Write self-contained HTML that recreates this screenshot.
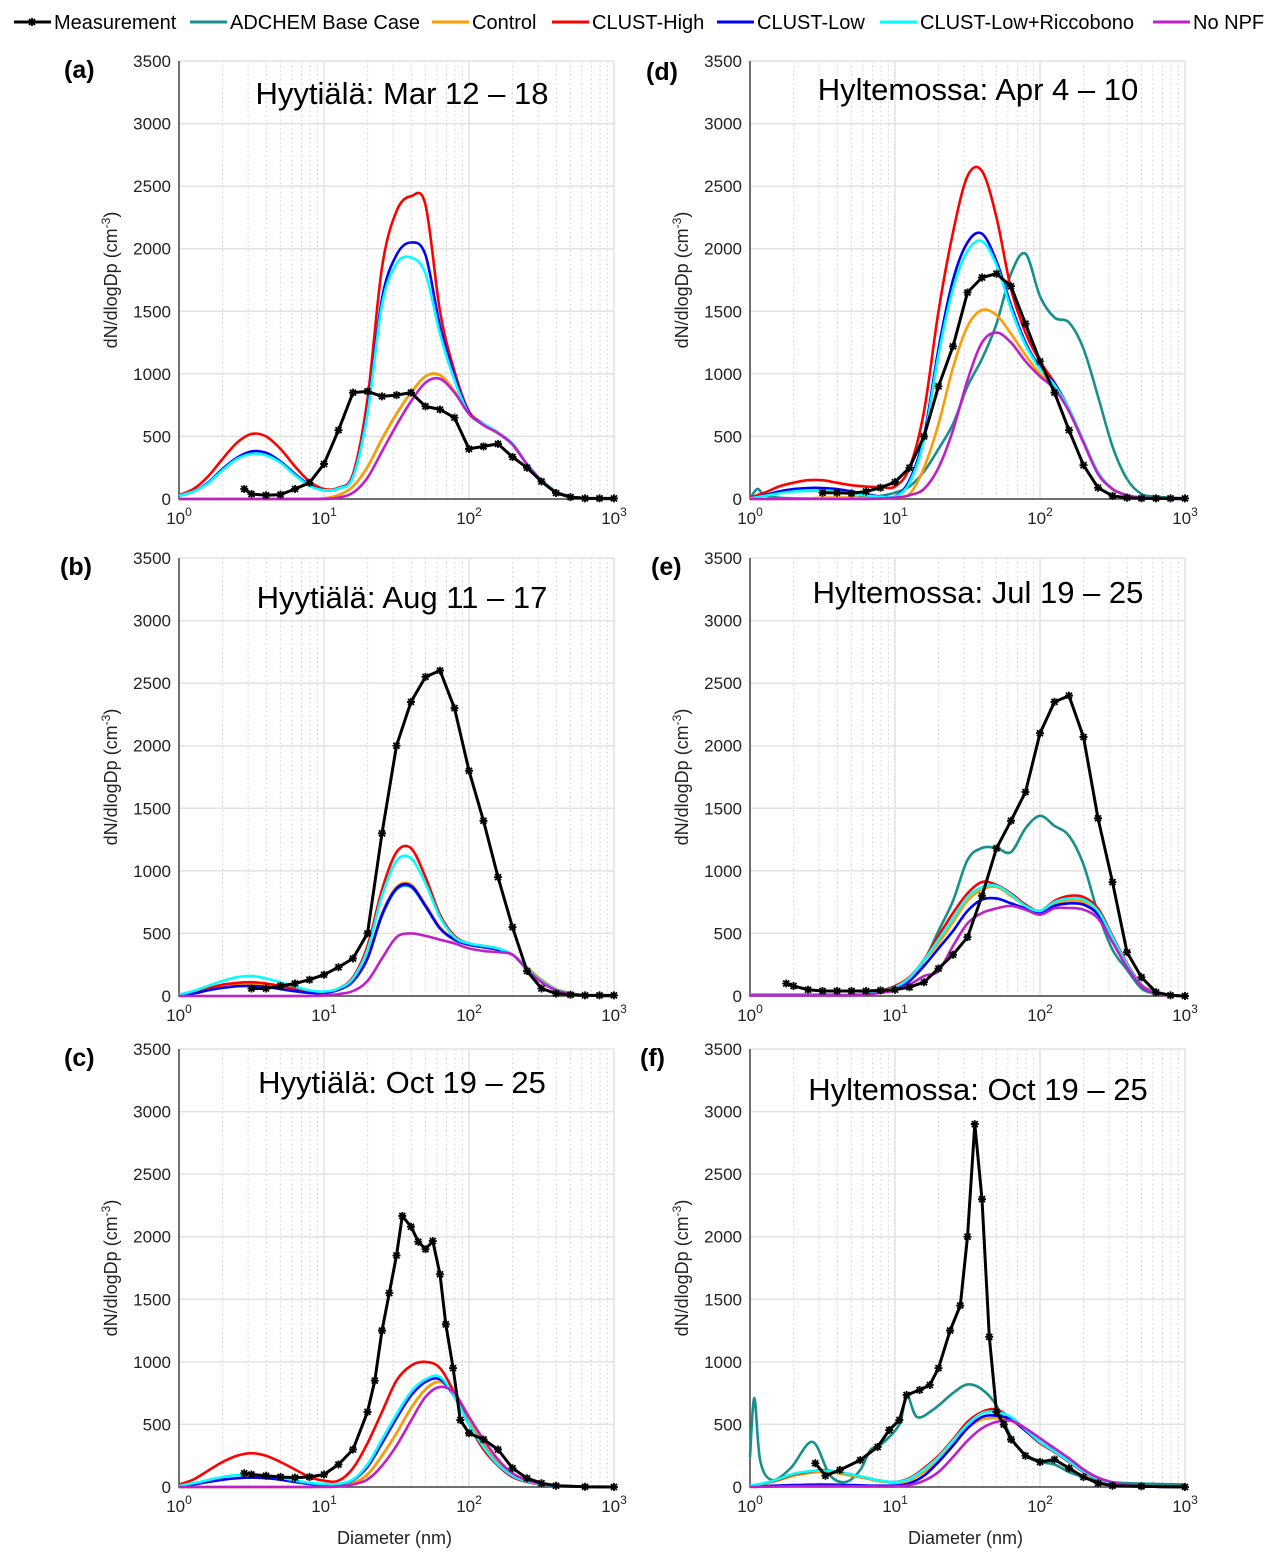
<!DOCTYPE html>
<html><head><meta charset="utf-8">
<style>
html,body{margin:0;padding:0;background:#fff;}
svg{display:block;font-family:"Liberation Sans",Arial,sans-serif;}
</style></head>
<body>
<svg id="fig" width="1276" height="1561" viewBox="0 0 1276 1561" xmlns="http://www.w3.org/2000/svg"></svg>
<script>
// ---------- data (log10 Dp grid 0..3 step 0.1) ----------
const logGrid=[0,0.1,0.2,0.3,0.4,0.5,0.6,0.7,0.8,0.9,1.0,1.1,1.2,1.3,1.4,1.5,1.6,1.7,1.8,1.9,2.0,2.1,2.2,2.3,2.4,2.5,2.6,2.7,2.8,2.9,3.0];
const yTicks=[0,500,1000,1500,2000,2500,3000,3500];
const xTickExp=[0,1,2,3];
const seriesNames=["ADCHEM Base Case","Control","CLUST-High","CLUST-Low","CLUST-Low+Riccobono","No NPF","Measurement"];

// Panel (a)
const a_adchem=[0,0,0,0,0,0,0,0,0,0,5,30,100,256,480,680,850,980,990,860,690,600,530,440,280,150,60,20,8,3,0];
const a_control=[0,0,0,0,0,0,0,0,0,0,5,30,100,256,480,680,850,980,990,860,690,600,530,440,280,150,60,20,8,3,0];
const a_high=[30,80,180,320,450,520,500,400,260,140,80,90,200,800,1850,2300,2420,2350,1500,1020,700,600,530,440,280,150,60,20,8,3,0];
const a_low=[25,60,130,240,330,380,370,300,200,110,70,85,180,700,1600,1950,2050,1950,1380,980,690,600,530,440,280,150,60,20,8,3,0];
const a_ricc=[25,60,125,230,320,360,350,290,190,105,70,85,175,680,1550,1880,1930,1800,1320,950,680,600,530,440,280,150,60,20,8,3,0];
const a_nonpf=[0,0,0,0,0,0,0,0,0,0,0,10,50,170,380,590,780,930,960,850,680,590,525,435,275,145,58,18,7,3,0];
const a_measX=[0.45,0.5,0.6,0.7,0.8,0.9,1.0,1.1,1.2,1.3,1.4,1.5,1.6,1.7,1.8,1.9,2.0,2.1,2.2,2.3,2.4,2.5,2.6,2.7,2.8,2.9,3.0];
const a_measY=[80,40,30,35,80,130,280,550,850,860,820,830,850,740,715,650,400,420,440,336,250,140,48,15,5,5,5];

// Panel (b)
const b_adchem=[5,25,50,70,85,88,78,60,40,27,25,48,115,300,640,850,870,715,540,450,410,390,370,330,225,125,52,20,5,2,0];
const b_control=[5,25,55,75,88,90,80,62,42,28,25,50,120,310,660,870,890,730,550,455,410,390,370,330,230,130,55,22,6,2,0];
const b_high=[10,30,60,90,105,110,100,80,55,35,30,60,150,400,850,1150,1180,950,650,480,420,400,380,330,220,120,50,20,5,2,0];
const b_low=[5,20,45,65,78,80,72,55,38,25,25,50,120,300,650,860,880,720,540,450,410,390,370,330,220,120,50,20,5,2,0];
const b_ricc=[10,40,80,120,150,160,140,110,75,45,35,60,140,370,800,1080,1100,900,630,470,420,400,380,330,220,120,50,20,5,2,0];
const b_nonpf=[0,0,0,0,0,0,0,0,0,0,5,15,40,120,300,470,500,480,450,420,380,360,350,330,210,110,45,18,5,2,0];
const b_measX=[0.5,0.6,0.7,0.8,0.9,1.0,1.1,1.2,1.3,1.4,1.5,1.6,1.7,1.8,1.9,2.0,2.1,2.2,2.3,2.4,2.5,2.6,2.7,2.8,2.9,3.0];
const b_measY=[60,60,80,100,130,170,230,300,500,1300,2000,2350,2550,2600,2300,1800,1400,950,550,200,60,20,10,5,5,5];

// Panel (c)
const c_adchem=[0,0,0,0,0,0,0,0,0,0,5,10,30,100,250,430,630,780,840,740,530,340,200,100,50,25,12,6,2,0,0];
const c_control=[0,0,0,0,0,0,0,0,0,0,5,10,30,100,250,430,630,780,840,740,530,340,200,100,50,25,12,6,2,0,0];
const c_high=[20,60,130,200,250,270,250,200,140,80,50,50,150,350,600,850,970,1000,950,750,500,300,170,80,40,20,10,5,2,0,0];
const c_low=[5,20,40,58,70,75,70,58,40,25,20,22,55,160,350,550,730,840,860,720,500,320,180,90,45,22,10,5,2,0,0];
const c_ricc=[10,30,55,80,95,100,92,75,52,33,25,25,60,180,380,580,760,860,880,720,500,320,180,90,45,22,10,5,2,0,0];
const c_nonpf=[0,0,0,0,0,0,0,0,0,0,0,5,20,60,170,330,530,720,800,750,560,380,220,110,55,27,12,6,2,0,0];
const c_measX=[0.45,0.5,0.6,0.7,0.8,0.9,1.0,1.1,1.2,1.3,1.35,1.4,1.45,1.5,1.54,1.6,1.65,1.7,1.75,1.8,1.84,1.89,1.94,2.0,2.1,2.2,2.3,2.4,2.5,2.6,2.8,3.0];
const c_measY=[110,100,90,80,75,80,100,180,300,600,850,1250,1550,1850,2166,2080,1960,1900,1966,1700,1300,950,535,430,380,300,150,70,30,10,2,0];

// Panel (d)
const d_adchemX=[0,0.05,0.1,0.2,0.3,0.4,0.5,0.6,0.7,0.8,0.9,1.0,1.1,1.2,1.3,1.4,1.5,1.6,1.7,1.8,1.9,2.0,2.1,2.2,2.3,2.4,2.5,2.6,2.7,2.8,2.9,3.0];
const d_adchemY=[0,80,30,10,5,5,5,5,10,15,25,50,100,220,400,600,900,1120,1400,1800,1960,1620,1450,1410,1200,820,420,160,40,20,10,5];
const d_control=[0,0,0,0,5,10,12,10,8,8,12,40,250,600,1050,1380,1510,1470,1320,1150,1000,900,720,460,210,80,30,10,5,2,0];
const d_high=[10,50,100,130,150,150,130,110,100,95,100,250,700,1500,2130,2580,2620,2250,1680,1330,1100,930,720,460,210,80,30,10,5,2,0];
const d_low=[5,30,60,80,88,88,80,60,40,20,20,150,500,1200,1750,2050,2120,1900,1550,1250,1050,920,720,460,210,80,30,10,5,2,0];
const d_ricc=[5,25,45,60,65,65,58,45,30,18,18,130,470,1150,1680,1980,2060,1870,1520,1230,1040,910,720,460,210,80,30,10,5,2,0];
const d_nonpf=[0,0,0,0,0,0,0,0,0,3,10,30,80,250,550,950,1250,1330,1250,1100,980,880,700,450,200,80,30,10,5,2,0];
const d_measX=[0.5,0.6,0.7,0.8,0.9,1.0,1.1,1.2,1.3,1.4,1.5,1.6,1.7,1.8,1.9,2.0,2.1,2.2,2.3,2.4,2.5,2.6,2.7,2.8,2.9,3.0];
const d_measY=[50,50,45,60,90,135,250,500,900,1220,1650,1770,1800,1700,1400,1100,850,550,270,90,25,10,5,5,5,5];

// Panel (e)
const e_adchem=[10,10,10,10,10,10,10,10,15,30,60,120,280,520,760,1087,1183,1183,1150,1340,1440,1360,1280,1050,663,370,210,60,20,5,0];
const e_control=[10,10,10,10,10,10,10,10,15,30,60,140,280,420,590,760,850,870,800,720,680,740,760,750,670,460,250,80,20,5,0];
const e_high=[10,10,10,10,10,10,10,10,20,40,80,150,290,480,663,820,911,887,820,730,680,760,800,790,700,480,260,90,30,8,0];
const e_low=[10,10,10,10,10,10,10,10,15,30,55,120,240,380,520,680,770,780,740,700,670,720,740,730,650,450,240,80,20,5,0];
const e_ricc=[10,10,10,10,10,10,10,10,18,35,70,145,285,450,620,790,870,880,810,720,680,750,780,770,680,470,250,85,25,6,0];
const e_nonpf=[5,5,5,5,5,5,5,5,10,25,45,90,160,200,400,580,663,700,720,690,650,700,703,690,620,430,230,80,20,5,0];
const e_measX=[0.25,0.3,0.4,0.5,0.6,0.7,0.8,0.9,1.0,1.1,1.2,1.3,1.4,1.5,1.6,1.7,1.8,1.9,2.0,2.1,2.2,2.3,2.4,2.5,2.6,2.7,2.8,2.9,3.0];
const e_measY=[100,80,50,40,40,40,40,45,50,70,110,220,330,470,800,1180,1400,1630,2100,2350,2400,2070,1420,910,350,150,30,5,0];

// Panel (f)
const f_adchemX=[0,0.03,0.07,0.15,0.28,0.43,0.55,0.66,0.76,0.83,0.9,1.03,1.08,1.15,1.26,1.4,1.5,1.6,1.7,1.8,1.9,2.0,2.1,2.2,2.3,2.4,2.6,3.0];
const f_adchemY=[240,710,215,56,150,360,96,40,136,296,335,500,735,560,615,750,820,780,650,400,250,200,180,120,80,50,30,20];
const f_control=[5,25,55,90,110,120,110,90,68,45,35,55,120,210,340,470,540,550,530,450,360,290,210,130,68,34,13,5,2,0,0];
const f_high=[10,30,60,100,120,135,120,100,75,50,40,70,150,250,380,520,600,620,550,450,350,280,200,120,60,30,10,5,2,0,0];
const f_low=[5,8,12,15,18,20,18,15,12,10,12,30,90,200,330,470,560,570,540,450,360,285,205,125,65,32,12,5,2,0,0];
const f_ricc=[10,30,65,105,125,130,120,100,75,50,40,65,140,240,370,500,590,600,560,460,360,285,205,125,65,32,12,5,2,0,0];
const f_nonpf=[0,2,4,6,7,8,7,6,5,4,5,15,50,120,240,370,470,520,530,470,390,310,230,140,75,38,15,6,2,0,0];
const f_measX=[0.45,0.52,0.62,0.76,0.88,0.96,1.03,1.08,1.17,1.24,1.3,1.38,1.45,1.5,1.55,1.6,1.65,1.7,1.75,1.8,1.9,2.0,2.1,2.2,2.3,2.4,2.5,2.7,3.0];
const f_measY=[190,90,136,215,320,455,535,735,775,815,950,1250,1450,2000,2900,2300,1200,600,500,380,250,200,220,150,80,30,10,5,0];

// ---------- layout ----------
const NS="http://www.w3.org/2000/svg";
const svg=document.getElementById('fig');
const COLORS={"ADCHEM Base Case":"#16908c","Control":"#ff9c00","CLUST-High":"#ff0000","CLUST-Low":"#0000ff","CLUST-Low+Riccobono":"#00ffff","No NPF":"#c01ec8","Measurement":"#000000"};
const W=435,H=438,YMAX=3500;
function mk(tag,attrs,parent){const e=document.createElementNS(NS,tag);for(const k in attrs)e.setAttribute(k,attrs[k]);(parent||svg).appendChild(e);return e;}

const panels=[
 {id:"a",ox:179,bot:499,title:"Hyytiälä: Mar 12 – 18",tx:402,ty:104,lx:64,ly:78,xlab:false,
  s:[[null,a_adchem],[null,a_control],[null,a_high],[null,a_low],[null,a_ricc],[null,a_nonpf],[a_measX,a_measY]]},
 {id:"b",ox:179,bot:996,title:"Hyytiälä: Aug 11 – 17",tx:402,ty:608,lx:60,ly:575,xlab:false,
  s:[[null,b_adchem],[null,b_control],[null,b_high],[null,b_low],[null,b_ricc],[null,b_nonpf],[b_measX,b_measY]]},
 {id:"c",ox:179,bot:1487,title:"Hyytiälä: Oct 19 – 25",tx:402,ty:1093,lx:64,ly:1066,xlab:true,
  s:[[null,c_adchem],[null,c_control],[null,c_high],[null,c_low],[null,c_ricc],[null,c_nonpf],[c_measX,c_measY]]},
 {id:"d",ox:750,bot:499,title:"Hyltemossa: Apr 4 – 10",tx:978,ty:100,lx:646,ly:80,xlab:false,
  s:[[d_adchemX,d_adchemY],[null,d_control],[null,d_high],[null,d_low],[null,d_ricc],[null,d_nonpf],[d_measX,d_measY]]},
 {id:"e",ox:750,bot:996,title:"Hyltemossa: Jul 19 – 25",tx:978,ty:603,lx:651,ly:575,xlab:false,
  s:[[null,e_adchem],[null,e_control],[null,e_high],[null,e_low],[null,e_ricc],[null,e_nonpf],[e_measX,e_measY]]},
 {id:"f",ox:750,bot:1487,title:"Hyltemossa: Oct 19 – 25",tx:978,ty:1100,lx:640,ly:1066,xlab:true,
  s:[[f_adchemX,f_adchemY],[null,f_control],[null,f_high],[null,f_low],[null,f_ricc],[null,f_nonpf],[f_measX,f_measY]]}
];

function smoothPath(pts,ymaxPix){
  let d="M"+pts[0][0].toFixed(1)+","+pts[0][1].toFixed(1);
  for(let i=0;i<pts.length-1;i++){
    const p0=pts[Math.max(0,i-1)],p1=pts[i],p2=pts[i+1],p3=pts[Math.min(pts.length-1,i+2)];
    let c1x=p1[0]+(p2[0]-p0[0])/6,c1y=p1[1]+(p2[1]-p0[1])/6;
    let c2x=p2[0]-(p3[0]-p1[0])/6,c2y=p2[1]-(p3[1]-p1[1])/6;
    c1y=Math.min(c1y,ymaxPix);c2y=Math.min(c2y,ymaxPix);
    d+=" C"+c1x.toFixed(1)+","+c1y.toFixed(1)+" "+c2x.toFixed(1)+","+c2y.toFixed(1)+" "+p2[0].toFixed(1)+","+p2[1].toFixed(1);
  }
  return d;
}

panels.forEach(p=>{
  const top=p.bot-H;
  const xs=v=>p.ox+v/3*W;
  const ys=v=>p.bot-v/YMAX*H;
  const g=mk('g',{});
  
  
  for(let dcd=0;dcd<3;dcd++)for(let k=2;k<=9;k++){
    const x=xs(dcd+Math.log10(k));
    const l=mk('line',{x1:x,x2:x,y1:top,y2:p.bot,stroke:"#cfcfcf","stroke-width":1,"stroke-dasharray":"1.5,3"},g);
    
    
  }
  xTickExp.forEach(e=>{
    const x=xs(e);
    const l=mk('line',{x1:x,x2:x,y1:top,y2:p.bot,stroke:"#e2e2e2","stroke-width":1.5},g);
    
    
    const t=mk('text',{x:x,y:p.bot+25,"font-size":17,"text-anchor":"middle",fill:"#222"},g);
    
    
    t.textContent="10";
    const sp=mk('tspan',{dy:-8,"font-size":12},t);sp.textContent=String(e);
  });
  yTicks.forEach(v=>{
    const y=ys(v);
    const l=mk('line',{x1:p.ox,x2:p.ox+W,y1:y,y2:y,stroke:"#e2e2e2","stroke-width":1.5},g);
    
    
    const t=mk('text',{x:p.ox-8,y:y+6,"font-size":17,"text-anchor":"end",fill:"#222"},g);
    
    
    t.textContent=String(v);
  });
  const ax=mk('path',{d:`M${p.ox},${top} V${p.bot} H${p.ox+W}`,fill:"none",stroke:"#444","stroke-width":1.5},g);
  
  
  p.s.forEach((sr,i)=>{
    const name=seriesNames[i];
    const X=sr[0]||logGrid, Y=sr[1];
    const pts=X.map((x,j)=>[xs(x),ys(Y[j])]);
    const isMeas=name==="Measurement";
    const d=isMeas?("M"+pts.map(q=>q[0].toFixed(1)+","+q[1].toFixed(1)).join(" L")):smoothPath(pts,p.bot);
    const path=mk('path',{d:d,fill:"none",stroke:COLORS[name],"stroke-width":isMeas?3:2.6,"stroke-linejoin":"round"},g);
    
    
    if(isMeas){
      pts.forEach(q=>{
        const m=mk('path',{d:`M${q[0]-4},${q[1]} H${q[0]+4} M${q[0]},${q[1]-4} V${q[1]+4} M${q[0]-3},${q[1]-3} L${q[0]+3},${q[1]+3} M${q[0]-3},${q[1]+3} L${q[0]+3},${q[1]-3}`,stroke:"#000","stroke-width":1.8},g);
        
        
      });
    }
  });
  const tt=mk('text',{x:p.tx,y:p.ty,"font-size":31,"text-anchor":"middle",fill:"#000"},g);
  
  
  tt.textContent=p.title;
  const pl=mk('text',{x:p.lx,y:p.ly,"font-size":25,"font-weight":"bold",fill:"#000"},g);
  
  
  pl.textContent="("+p.id+")";
  const yc=p.bot-H/2, yx=p.ox-62;
  const yl=mk('text',{x:yx,y:yc,"font-size":18,"text-anchor":"middle",fill:"#222",transform:`rotate(-90 ${yx} ${yc})`},g);
  
  
  yl.textContent="dN/dlogDp (cm";
  const s1=mk('tspan',{dy:-7,"font-size":12},yl);s1.textContent="-3";
  const s2=mk('tspan',{dy:7},yl);s2.textContent=")";
  if(p.xlab){
    const xl=mk('text',{x:p.ox+W/2-2,y:p.bot+57,"font-size":18,"text-anchor":"middle",fill:"#222"},g);
    
    
    xl.textContent="Diameter (nm)";
  }
});

// ---------- legend ----------
const legendX=[14,190,432,552,717,880,1153];
const legendOrder=["Measurement","ADCHEM Base Case","Control","CLUST-High","CLUST-Low","CLUST-Low+Riccobono","No NPF"];
const lg=mk('g',{});


legendOrder.forEach((n,i)=>{
  const x=legendX[i];
  const eg=mk('g',{},lg);
  
  
  mk('line',{x1:x,x2:x+37,y1:22,y2:22,stroke:COLORS[n],"stroke-width":3},eg);
  if(n==="Measurement"){
    const cx=x+18;
    mk('path',{d:`M${cx},18 V26 M${cx-3},19 L${cx+3},25 M${cx-3},25 L${cx+3},19`,stroke:"#000","stroke-width":1.8},eg);
  }
  const t=mk('text',{x:x+40,y:29,"font-size":20,fill:"#000"},eg);
  t.textContent=n;
});
</script>
</body></html>
